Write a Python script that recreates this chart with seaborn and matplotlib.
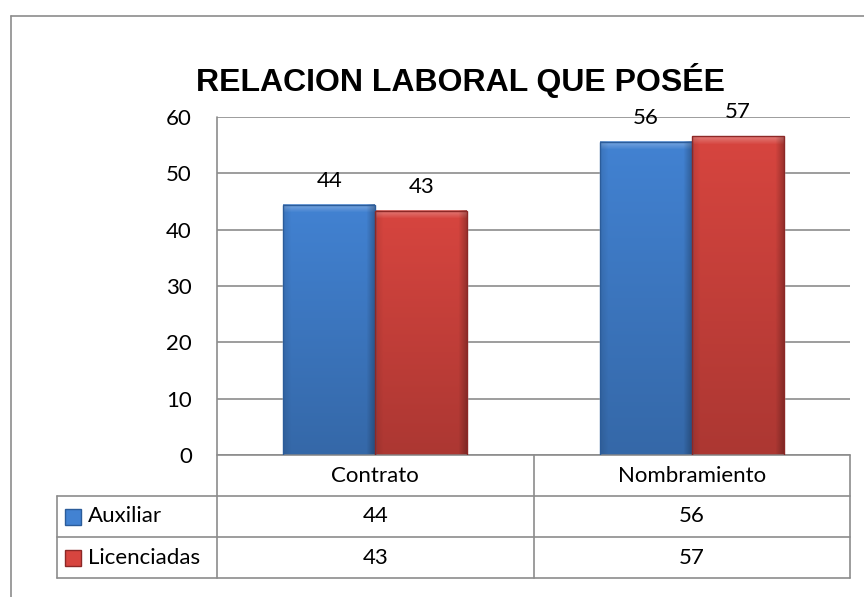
import numpy as np
import pandas as pd
import seaborn as sns
import matplotlib.pyplot as plt
from matplotlib.lines import Line2D
from matplotlib.patches import Rectangle
from matplotlib.colors import to_rgb

# datos
categorias = ['Contrato', 'Nombramiento']
series = ['Auxiliar', 'Licenciadas']
auxiliar = [44.4, 55.6]
licenciadas = [43.4, 56.6]
titulo = 'RELACION LABORAL QUE POSÉE'
yticks = [0, 10, 20, 30, 40, 50, 60]

colores = ['#4282D2', '#D7453F']
bordes = ['#2B5C9A', '#8C2826']
gris = '#8C8C8C'

df = pd.DataFrame({
    'Relacion': categorias * 2,
    'Serie': [series[0]] * 2 + [series[1]] * 2,
    'Valor': auxiliar + licenciadas,
})

sns.set_style('white')
plt.rcParams['font.family'] = ['Lato', 'DejaVu Sans']
plt.rcParams['text.color'] = 'black'
plt.rcParams['ytick.color'] = 'black'
fs = 16

fig = plt.figure(figsize=(8.64, 5.97), dpi=100)
ax = fig.add_axes([217/864, 1-455/597, 633/864, 338/597])

sns.barplot(data=df, x='Relacion', y='Valor', hue='Serie', palette=colores,
            saturation=1, width=0.58, legend=False, ax=ax)

# relleno con degradado tipo bisel
def relleno(bar, base, borde):
    x0, y0 = bar.get_x(), bar.get_y()
    w, h = bar.get_width(), bar.get_height()
    hp, wp = max(int(h * 338 / 60), 2), max(int(w * 633 / 2), 2)
    c = np.array(to_rgb(base))
    t = np.linspace(0, 1, hp)[:, None, None]
    img = np.tile(c, (hp, wp, 1)) * (0.80 + 0.20 * t)
    b = 9
    rampa = np.linspace(1, 0, b)
    # parte superior aclarada suavemente
    top = rampa[::-1][:, None, None]
    img[-b:] = img[-b:] * (1 - 0.3 * top) + 0.3 * top
    # lados oscurecidos
    img[:, -b:] *= (1 - 0.25 * rampa[::-1])[None, :, None]
    img[:, :b] *= (1 - 0.10 * rampa)[None, :, None]
    img = np.clip(img, 0, 1)
    ax.imshow(img, extent=[x0, x0 + w, y0, y0 + h], origin='lower',
              aspect='auto', zorder=2, interpolation='bilinear')
    ax.add_patch(Rectangle((x0, y0), w, h, fill=False, edgecolor=borde,
                           lw=1, zorder=3))

for i, cont in enumerate(ax.containers):
    for bar in cont:
        relleno(bar, colores[i], bordes[i])
    ax.bar_label(cont, fmt='%.0f', padding=10, fontsize=fs, color='black')

ax.set_xlim(-0.5, 1.5)
ax.set_ylim(0, 60)
ax.set_yticks(yticks)
ax.set_xticks([])
ax.set_xlabel('')
ax.set_ylabel('')
ax.tick_params(axis='y', length=0, pad=18, labelsize=fs, labelcolor='black')
ax.set_axisbelow(True)
ax.yaxis.grid(True, color=gris, lw=1.2)
for s in ax.spines.values():
    s.set_visible(False)

# tabla de datos
y1, y2, y3 = -41/338, -82/338, -123/338
xl = -160/633
kw = dict(transform=ax.transAxes, color=gris, lw=1.2, clip_on=False)
ax.plot([0, 1], [0, 0], **kw)
for y in (y1, y2, y3):
    ax.plot([xl, 1], [y, y], **kw)
ax.plot([xl, xl], [y1, y3], **kw)
ax.plot([0, 0], [1, y3], **kw)
ax.plot([0.5, 0.5], [0, y3], **kw)
ax.plot([1, 1], [0, y3], **kw)

tr = ax.get_xaxis_transform()
for j, cat in enumerate(categorias):
    ax.text(j, y1 / 2, cat, transform=tr, ha='center', va='center', fontsize=fs)
    ax.text(j, (y1 + y2) / 2, f'{auxiliar[j]:.0f}', transform=tr,
            ha='center', va='center', fontsize=fs)
    ax.text(j, (y2 + y3) / 2, f'{licenciadas[j]:.0f}', transform=tr,
            ha='center', va='center', fontsize=fs)

for k, (nombre, yc) in enumerate(zip(series, [(y1 + y2) / 2, (y2 + y3) / 2])):
    ax.add_patch(Rectangle((-152/633, yc - 8/338), 16/633, 16/338,
                           facecolor=colores[k], edgecolor=bordes[k], lw=1,
                           transform=ax.transAxes, clip_on=False))
    ax.text(-129/633, yc, nombre, transform=ax.transAxes, ha='left',
            va='center', fontsize=fs)

# titulo y marco
fig.text(460/864, 1-80/597, titulo, ha='center', va='center', fontsize=23,
         fontweight='bold', family='Liberation Sans', color='black')
fig.add_artist(Line2D([11/864, 11/864], [0, 1-16/597], color=gris, lw=1.2))
fig.add_artist(Line2D([11/864, 1], [1-16/597, 1-16/597], color=gris, lw=1.2))

fig.savefig('out.png', dpi=100)
